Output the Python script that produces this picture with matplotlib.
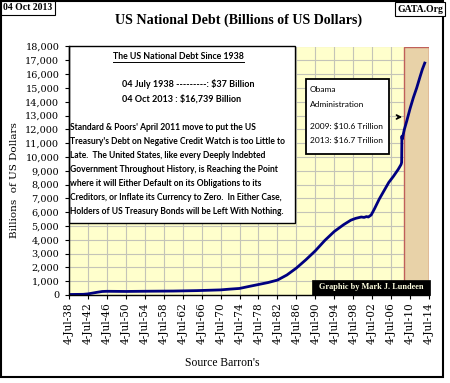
import matplotlib
matplotlib.use("Agg")
import matplotlib.pyplot as plt
from matplotlib.patches import Rectangle, FancyArrowPatch
from matplotlib.ticker import FuncFormatter

# ---- data ----
years = [1938.5, 1941.5, 1942.5, 1943.5, 1944.5, 1945.5, 1946.5, 1950.5, 1955.5,
         1960.5, 1965.5, 1970.5, 1972.5, 1974.5, 1976.5, 1978.5, 1980.5, 1982.5,
         1984.5, 1986.5, 1988.5, 1990.5, 1992.5, 1994.5, 1996.5, 1998.0, 1999.0,
         1999.6, 2000.2, 2000.8, 2001.3, 2001.7, 2002.3, 2003.0, 2004.0, 2005.0,
         2006.0, 2007.0, 2008.0, 2008.6, 2008.72, 2008.78, 2008.85, 2009.3, 2009.8,
         2010.5, 2011.2, 2011.9, 2012.6, 2013.1, 2013.6]
debt = [37, 49, 80, 140, 200, 255, 268, 257, 274,
        286, 317, 370, 427, 475, 620, 760, 900, 1080,
        1450, 1950, 2550, 3200, 3950, 4600, 5100, 5420, 5550,
        5600, 5650, 5620, 5680, 5650, 5800, 6250, 6950, 7550,
        8150, 8600, 9100, 9450, 9600, 11500, 11300, 12000, 12600,
        13500, 14300, 15000, 15800, 16350, 16800]

xtick_years = [1938.5 + 4 * k for k in range(20)]
xtick_labels = ["4-Jul-%02d" % (int(y) % 100) for y in xtick_years]
ytick_values = list(range(0, 18001, 1000))
obama_start = 2009.3

W, H = 450, 383
fig = plt.figure(figsize=(W / 100, H / 100), dpi=100)
fig.patch.set_facecolor("white")
renderer = fig.canvas.get_renderer()

def fx(px):
    return px / W

def fy(py):
    return 1 - py / H

def fit(t, width_px):
    """scale a text's font size so that it spans width_px pixels"""
    bb = t.get_window_extent(renderer=renderer)
    t.set_fontsize(t.get_fontsize() * width_px / bb.width)
    return t

ax = fig.add_axes([fx(69), fy(295), fx(429) - fx(69), fy(46.5) - fy(295)])
ax.set_facecolor("#FFFFCC")
ax.set_xlim(1938.5, 2014.5)
ax.set_ylim(0, 18000)
ax.set_xticks(xtick_years)
ax.set_xticklabels(xtick_labels, rotation=90, family="DejaVu Serif", fontsize=7.6)
ax.set_yticks(ytick_values)
ax.yaxis.set_major_formatter(FuncFormatter(lambda v, p: "{:,.0f}".format(v)))
for lab in ax.get_yticklabels():
    lab.set_family("DejaVu Serif")
    lab.set_fontsize(7)
ax.tick_params(axis="both", length=3, width=0.8, color="black")
ax.tick_params(axis="y", pad=4)
ax.tick_params(axis="x", pad=2)
ax.grid(True, color="#C4C4B8", lw=0.8, zorder=0)
ax.set_axisbelow(True)
for s in ["top", "right"]:
    ax.spines[s].set_visible(False)
for s in ["left", "bottom"]:
    ax.spines[s].set_linewidth(1.0)
    ax.spines[s].set_zorder(6)

# Obama shaded region
ax.axvspan(obama_start, 2014.5, facecolor="#E8D2A8", edgecolor="#C0605A", lw=1.0, zorder=1)

# debt line
ax.plot(years, debt, color="#000080", lw=2.0, zorder=4, solid_joinstyle="round")

# white text box upper-left
ax.add_patch(Rectangle((0, 5230 / 18000), (295 - 69) / 360, 1 - 5230 / 18000,
                       transform=ax.transAxes, facecolor="white", edgecolor="black",
                       lw=1.0, zorder=5, clip_on=False))

sans = ["Lato", "DejaVu Sans"]
para = ["Standard & Poors' April 2011 move to put the US",
        "Treasury's Debt on Negative Credit Watch is too Little to",
        "Late.  The United States, like every Deeply Indebted",
        "Government Throughout History, is Reaching the Point",
        "where it will Either Default on its Obligations to its",
        "Creditors, or Inflate its Currency to Zero.  In Either Case,",
        "Holders of US Treasury Bonds will be Left With Nothing."]
ref = fig.text(0, 0, para[1], family=sans, fontsize=6.5, fontweight="bold")
bb = ref.get_window_extent(renderer=renderer)
para_size = 6.5 * 217 / bb.width
ref.remove()

t = fig.text(fx(178.5), fy(56.7), "The US National Debt Since 1938", ha="center", va="center",
             family=sans, fontsize=6.5, fontweight="bold", zorder=7)
fit(t, 131)
fig.add_artist(plt.Line2D([fx(113), fx(244)], [fy(61.8), fy(61.8)], color="black", lw=0.7))
fig.text(fx(122), fy(84.3), "04 July 1938 ---------: $37 Billion", ha="left", va="center",
         family=sans, fontsize=para_size * 1.05, fontweight="bold")
fig.text(fx(122), fy(99.3), "04 Oct 2013 : $16,739 Billion", ha="left", va="center",
         family=sans, fontsize=para_size * 1.05, fontweight="bold")
for i, line in enumerate(para):
    fig.text(fx(70.5), fy(127.3 + i * 13.95), line, ha="left", va="center",
             family=sans, fontsize=para_size, fontweight="bold")

# Obama box
fig.add_artist(Rectangle((fx(306), fy(154)), fx(389) - fx(306), fy(79) - fy(154),
                         transform=fig.transFigure, facecolor="white", edgecolor="black",
                         lw=1.3, zorder=8))
ref = fig.text(0, 0, "2009: $10.6 Trillion", family=sans, fontsize=6.5)
bb = ref.get_window_extent(renderer=renderer)
ob_size = 6.5 * 72 / bb.width
ref.remove()
for txt, py in [("Obama", 90), ("Administration", 104.3),
                ("2009: $10.6 Trillion", 126), ("2013: $16.7 Trillion", 140)]:
    fig.text(fx(310), fy(py), txt, ha="left", va="center", family=sans,
             fontsize=ob_size, zorder=9)
fig.add_artist(FancyArrowPatch((fx(395), fy(117)), (fx(405), fy(117)),
                               transform=fig.transFigure, arrowstyle="->",
                               mutation_scale=7, lw=1.2, color="black", zorder=9))

# Graphic by box
fig.add_artist(Rectangle((fx(312), fy(294.5)), fx(430) - fx(312), fy(280) - fy(294.5),
                         transform=fig.transFigure, facecolor="black", edgecolor="black",
                         lw=0.5, zorder=8))
t = fig.text(fx(371), fy(287.3), "Graphic by Mark J. Lundeen", ha="center", va="center",
             family=["Liberation Serif", "DejaVu Serif"], fontsize=6.5, fontweight="bold",
             color="#FFFFE0", zorder=9)
fit(t, 104)

# titles and labels
t = fig.text(fx(238.5), fy(20), "US National Debt (Billions of US Dollars)", ha="center",
             va="center", family=["Liberation Serif", "DejaVu Serif"], fontsize=10,
             fontweight="bold")
fit(t, 247)
fig.text(fx(15), fy(180), "Billions  of US Dollars", ha="center", va="center", rotation=90,
         family="DejaVu Serif", fontsize=7.5)
t = fig.text(fx(222), fy(363), "Source Barron's", ha="center", va="center",
             family=["Liberation Serif", "DejaVu Serif"], fontsize=8.5)
fit(t, 74)

# corner boxes
fig.text(fx(28), fy(8), "04 Oct 2013", ha="center", va="center",
         family=["Liberation Serif", "DejaVu Serif"], fontsize=7, fontweight="bold",
         bbox=dict(boxstyle="square,pad=0.25", facecolor="white", edgecolor="black", lw=0.8))
fig.text(fx(420), fy(9), "GATA.Org", ha="center", va="center",
         family=["Liberation Serif", "DejaVu Serif"], fontsize=7, fontweight="bold",
         bbox=dict(boxstyle="square,pad=0.25", facecolor="white", edgecolor="black", lw=0.8))

# outer frame
fig.add_artist(Rectangle((fx(1), fy(376.5)), fx(443) - fx(1), fy(1) - fy(376.5),
                         transform=fig.transFigure, facecolor="none", edgecolor="black",
                         lw=1.5, zorder=0))

fig.savefig("out.png", dpi=100)
